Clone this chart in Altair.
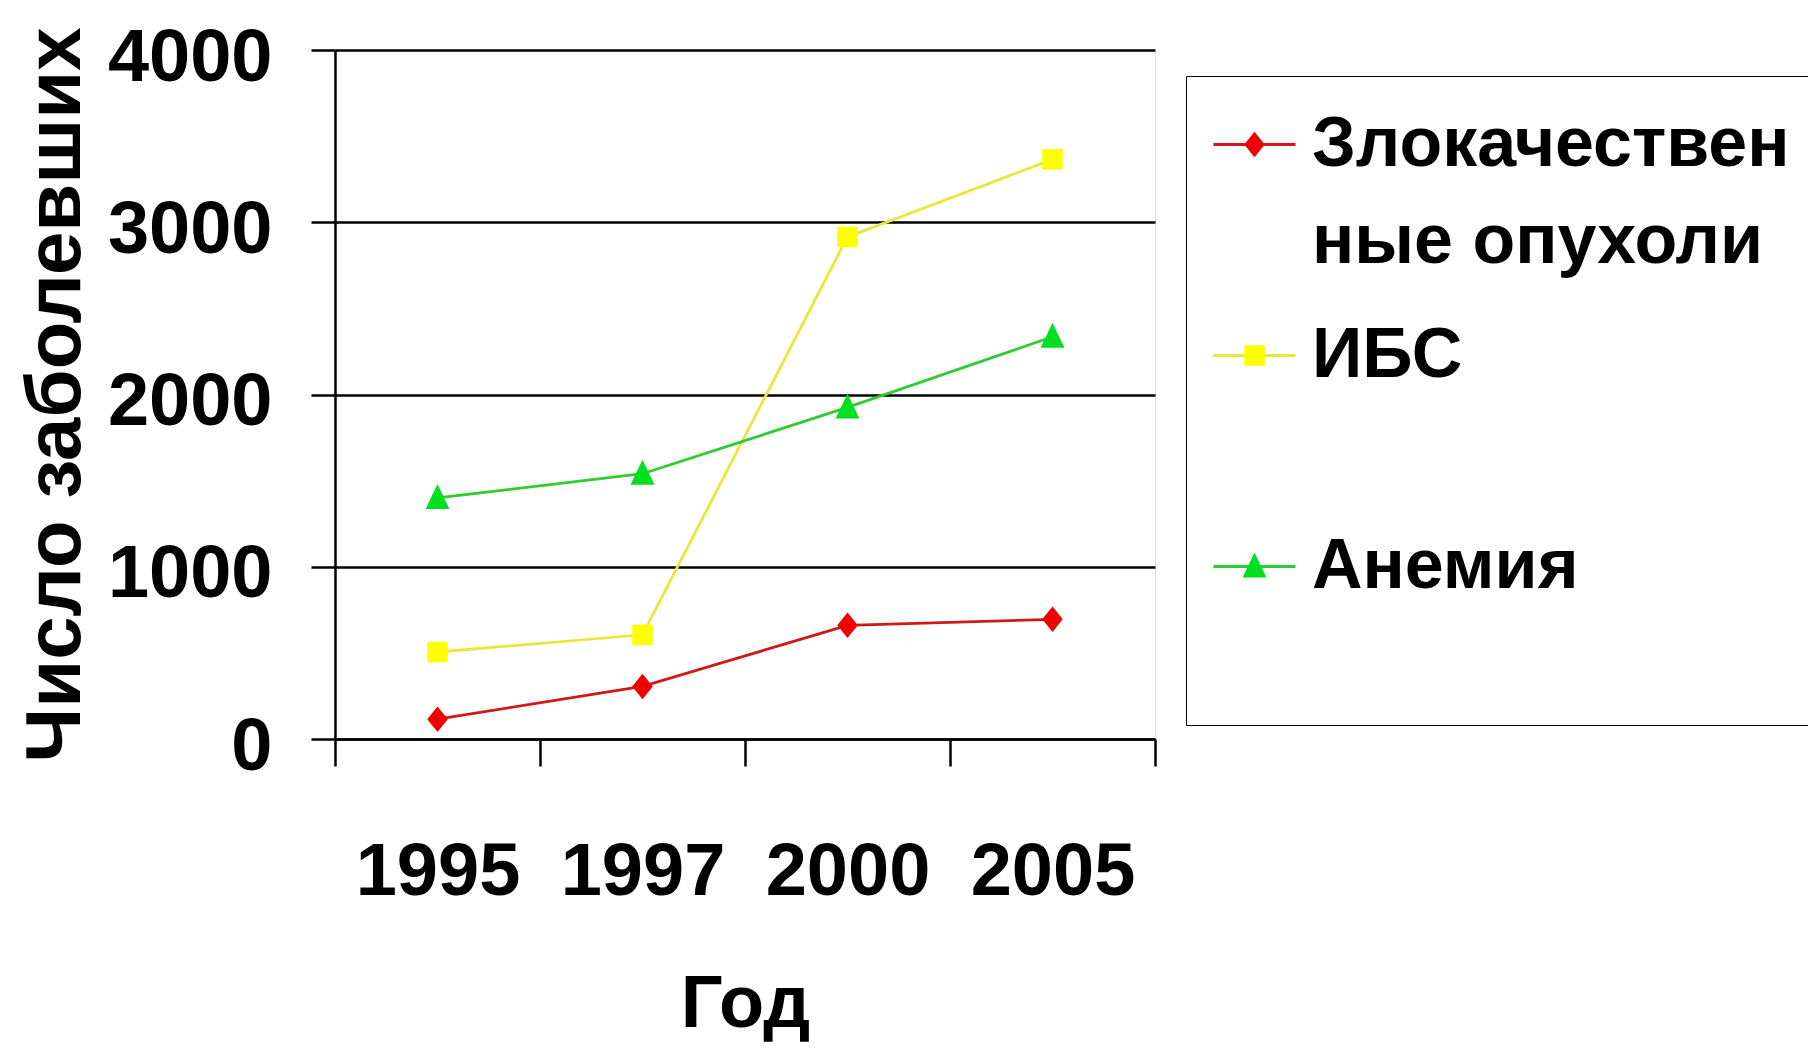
import altair as alt
import pandas as pd

years = ["1995", "1997", "2000", "2005"]
series_names = ["Злокачественные опухоли", "ИБС", "Анемия"]
malignant = [115, 305, 660, 695]
ihd = [505, 605, 2915, 3365]
anemia = [1400, 1540, 1925, 2335]
y_ticks = [0, 1000, 2000, 3000, 4000]

line_colors = ["#D01818", "#E8E83A", "#2ECC2E"]
marker_colors = ["#F00000", "#FFFF00", "#00E020"]
marker_paths = [
    "M-1,0M1,0M0,-0.31L0.25,0L0,0.31L-0.25,0Z",
    "M-1,0M1,0M-0.25,-0.25H0.25V0.25H-0.25Z",
    "M-1,0M1,0M0,-0.34L0.29,0.27L-0.29,0.27Z",
]

rows = []
for name, vals in zip(series_names, [malignant, ihd, anemia]):
    for yr, v in zip(years, vals):
        rows.append({"year": yr, "value": v, "series": name, "marker": name})
df = pd.DataFrame(rows)

FONT = "Liberation Sans"
TICK_FS = 74
LEG_FS = 70

label_expr = ("length(datum.label) > 15 ? [substring(datum.label, 0, 12), "
              "substring(datum.label, 12)] : [datum.label, '']")

common = dict(
    orient="none", legendX=851, legendY=26, title=None,
    labelFont=FONT, labelFontSize=LEG_FS, labelFontWeight="bold",
    labelColor="black", labelExpr=label_expr, labelLimit=1000,
    labelOffset=15, symbolSize=6724, symbolStrokeWidth=3,
    rowPadding=36, padding=26, gridAlign="all",
)
legend_lines = alt.Legend(symbolType="stroke", strokeColor="black", zindex=0, **common)
legend_marks = alt.Legend(labelOpacity=0, zindex=1, **common)

x_enc = alt.X(
    "year:O", sort=years, title="Год",
    scale=alt.Scale(type="band", paddingInner=0, paddingOuter=0),
    axis=alt.Axis(
        labelAngle=0, tickBand="extent", tickSize=27, tickWidth=2.5,
        tickColor="black", domainColor="black", domainWidth=2.5,
        labelFont=FONT, labelFontSize=TICK_FS, labelFontWeight="bold",
        labelColor="black", labelPadding=70, labelOverlap=False, labelLimit=400,
        titleFont=FONT, titleFontSize=74, titleFontWeight="bold",
        titleColor="black", titlePadding=59, grid=False,
    ),
)
y_enc = alt.Y(
    "value:Q", title="Число заболевших",
    scale=alt.Scale(domain=[0, 4000]),
    axis=alt.Axis(
        values=y_ticks, format="d", tickSize=24, tickWidth=2.5, tickColor="black",
        domainColor="black", domainWidth=2.5,
        grid=True, gridColor="black", gridWidth=2.5, gridOpacity=1,
        labelFont=FONT, labelFontSize=TICK_FS, labelFontWeight="bold",
        labelColor="black", labelPadding=39, labelOffset=8, labelOverlap=False,
        labelLimit=400,
        titleFont=FONT, titleFontSize=78, titleFontWeight="bold",
        titleColor="black", titlePadding=40,
    ),
)

lines = alt.Chart(df).mark_line(strokeWidth=2.8).encode(
    x=x_enc, y=y_enc,
    stroke=alt.Stroke("series:N", sort=series_names,
                      scale=alt.Scale(range=line_colors), legend=legend_lines),
)
points = alt.Chart(df).mark_point(filled=True, size=6724, opacity=1).encode(
    x=x_enc, y=y_enc,
    shape=alt.Shape("marker:N",
                    scale=alt.Scale(domain=series_names, range=marker_paths),
                    legend=legend_marks),
    fill=alt.Fill("marker:N",
                  scale=alt.Scale(domain=series_names, range=marker_colors),
                  legend=legend_marks),
)

chart = alt.layer(lines, points).properties(
    width=820, height=689,
    autosize=alt.AutoSizeParams(type="none"),
    padding={"left": 327, "top": 42, "right": 653, "bottom": 309},
).configure_view(
    stroke="black", strokeWidth=2.5
).configure_legend(
    strokeWidth=2.5
).configure(
    background="white", style={"guide-label": {"lineHeight": 97}}
)

chart.save("out.html", embed_options={"renderer": "svg", "actions": False})
